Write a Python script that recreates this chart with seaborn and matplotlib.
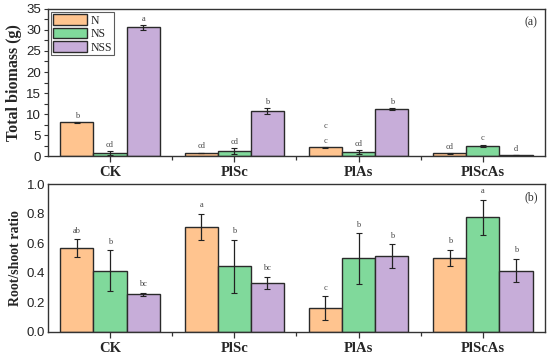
import numpy as np
import pandas as pd
import matplotlib
matplotlib.use("Agg")
import matplotlib.pyplot as plt
import seaborn as sns
from matplotlib.ticker import MultipleLocator

# %%
groups = ["CK", "PlSc", "PlAs", "PlScAs"]
treatments = ["N", "NS", "NSS"]

# total biomass (g)
biomass_N = [8.0, 0.8, 2.05, 0.65]
biomass_NS = [0.7, 1.2, 0.9, 2.45]
biomass_NSS = [30.6, 10.7, 11.25, 0.25]
biomass_err_N = [0.15, 0.05, 0.2, 0.1]
biomass_err_NS = [0.4, 0.7, 0.5, 0.3]
biomass_err_NSS = [0.5, 0.8, 0.2, 0.1]
biomass_letters_N = ["b", "cd", "c", "cd"]
biomass_letters_NS = ["cd", "cd", "cd", "c"]
biomass_letters_NSS = ["a", "b", "b", "d"]

# root/shoot ratio
ratio_N = [0.566, 0.71, 0.16, 0.50]
ratio_NS = [0.414, 0.444, 0.497, 0.774]
ratio_NSS = [0.255, 0.333, 0.512, 0.415]
ratio_err_N = [0.06, 0.09, 0.08, 0.055]
ratio_err_NS = [0.14, 0.18, 0.17, 0.12]
ratio_err_NSS = [0.01, 0.04, 0.08, 0.08]
ratio_letters_N = ["ab", "a", "c", "b"]
ratio_letters_NS = ["b", "b", "b", "a"]
ratio_letters_NSS = ["bc", "bc", "b", "b"]

colors = ["#FFC48F", "#80D99B", "#C7ADD9"]


def long_table(vals, errs, letters):
    rows = []
    for t, v, e, l in zip(treatments, vals, errs, letters):
        for g, vv, ee, ll in zip(groups, v, e, l):
            rows.append({"group": g, "treat": t, "value": vv, "err": ee, "letter": ll})
    return pd.DataFrame(rows)


df_bio = long_table([biomass_N, biomass_NS, biomass_NSS],
                    [biomass_err_N, biomass_err_NS, biomass_err_NSS],
                    [biomass_letters_N, biomass_letters_NS, biomass_letters_NSS])
df_rat = long_table([ratio_N, ratio_NS, ratio_NSS],
                    [ratio_err_N, ratio_err_NS, ratio_err_NSS],
                    [ratio_letters_N, ratio_letters_NS, ratio_letters_NSS])

# %%
sns.set_theme(style="white")
plt.rcParams["font.family"] = ["Liberation Sans", "DejaVu Sans"]

fig = plt.figure(figsize=[5.5, 3.58], dpi=100)
ax1 = fig.add_axes([0.087, 0.564, 0.904, 0.411])
ax2 = fig.add_axes([0.087, 0.073, 0.904, 0.413])

serif = "Liberation Serif"


def draw(ax, df, ylim, step, minor, ylabel, ysize, tag, fmt, off, show_legend):
    sns.barplot(df, x="group", y="value", hue="treat", palette=colors,
                order=groups, hue_order=treatments, errorbar=None,
                width=0.8, edgecolor="#2a2a2a", linewidth=1.0, saturation=1,
                ax=ax, legend=show_legend)
    for cont, t in zip(ax.containers, treatments):
        sub = df[df["treat"] == t].set_index("group").loc[groups]
        xs = [p.get_x() + p.get_width() / 2 for p in cont.patches]
        ax.errorbar(xs, sub["value"], yerr=sub["err"], fmt="none",
                    ecolor="#222222", elinewidth=0.9, capsize=2.5, capthick=0.8)
        for x, v, e, l in zip(xs, sub["value"], sub["err"], sub["letter"]):
            ax.text(x, v + e + off, l, ha="center", va="bottom",
                    fontsize=6, family=serif, color="#444444")
    ax.set_xlim(-0.5, 3.5)
    ax.set_ylim(*ylim)
    ax.yaxis.set_major_locator(MultipleLocator(step))
    if minor:
        ax.yaxis.set_minor_locator(MultipleLocator(step / 2))
    ax.yaxis.set_major_formatter(fmt)
    ax.set_xticks(range(4))
    ax.set_xticks([0.5, 1.5, 2.5], minor=True)
    ax.tick_params(axis="x", which="major", direction="out", length=4,
                   width=0.9, color="#333333", bottom=True, pad=3)
    ax.tick_params(axis="x", which="minor", direction="out", length=3,
                   width=0.9, color="#333333", bottom=True)
    ax.tick_params(axis="y", which="both", direction="out", length=3 if minor else 0,
                   width=0.8, color="#333333", left=True, labelsize=9.5, pad=2,
                   labelcolor="#222222")
    for lab in ax.get_xticklabels():
        lab.set_family(serif)
        lab.set_fontweight("bold")
        lab.set_fontsize(10.5)
    ax.set_xlabel("")
    ax.set_ylabel(ylabel, family=serif, fontweight="bold", fontsize=ysize, labelpad=3)
    for s in ax.spines.values():
        s.set_color("#333333")
        s.set_linewidth(1.0)
    ax.text(0.985, 0.95, tag, transform=ax.transAxes, ha="right", va="top",
            family=serif, fontsize=8.5, color="#333333")


draw(ax1, df_bio, (0, 35), 5, True, "Total biomass (g)", 11.5, "(a)", "{x:.0f}", 0.5, True)
draw(ax2, df_rat, (0, 1.0), 0.2, False, "Root/shoot ratio", 10, "(b)", "{x:.1f}", 0.03, False)

# stray extra letter above PlAs N bar in panel (a)
ax1.text(1.733, 6.2, "c", ha="center", va="bottom", fontsize=6, family=serif, color="#444444")

leg = ax1.legend(loc="upper left", bbox_to_anchor=(0.0, 1.0), frameon=True,
                 prop={"family": serif, "size": 8.5}, handlelength=2.9,
                 handleheight=1.0, handletextpad=0.3, borderpad=0.15,
                 labelspacing=0.1, borderaxespad=0.3, fancybox=False)
leg.get_frame().set_edgecolor("#333333")
leg.get_frame().set_linewidth(0.8)
leg.set_title(None)

fig.savefig("out.png", dpi=100)
